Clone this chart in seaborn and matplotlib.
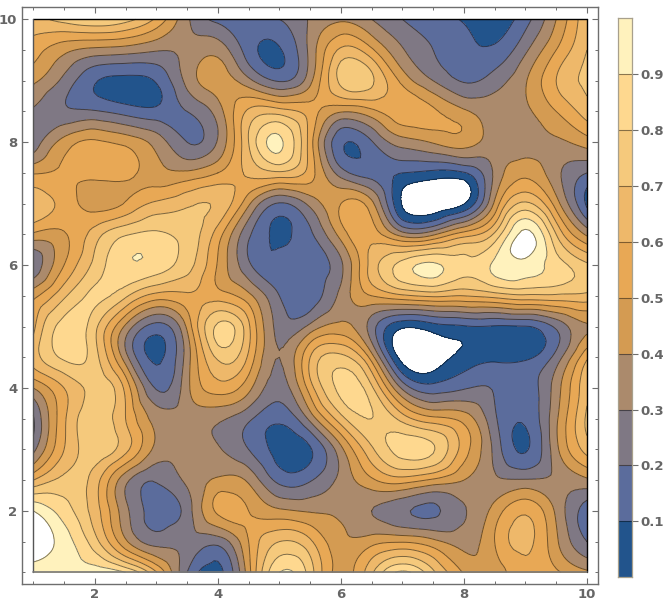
import numpy as np
import seaborn as sns
import matplotlib
matplotlib.use("Agg")
import matplotlib.pyplot as plt
import matplotlib.tri as mtri

# values, one list per row, x = 1, 1.5, ... 10
x_vals = [1, 1.5, 2, 2.5, 3, 3.5, 4, 4.5, 5, 5.5, 6, 6.5, 7, 7.5, 8, 8.5, 9, 9.5, 10]
y_vals = [10, 9.5, 9, 8.5, 8, 7.5, 7, 6.5, 6, 5.5, 5, 4.5, 4, 3.5, 3, 2.5, 2, 1.5, 1]

row_100 = [.66, .74, .80, .74, .58, .32, .17, .15, .20, .31, .38, .30, .20, .14, .09, .05, .16, .40, .68]
row_095 = [.55, .43, .37, .35, .31, .33, .36, .15, .09, .33, .62, .52, .31, .20, .13, .12, .28, .50, .70]
row_090 = [.42, .27, .11, .07, .11, .33, .45, .33, .19, .37, .73, .72, .47, .30, .19, .25, .39, .60, .72]
row_085 = [.28, .22, .21, .16, .13, .20, .35, .62, .65, .55, .41, .47, .57, .52, .42, .35, .38, .50, .65]
row_080 = [.23, .44, .52, .47, .36, .20, .31, .70, .92, .55, .12, .19, .35, .41, .45, .35, .36, .38, .45]
row_075 = [.49, .52, .54, .53, .44, .42, .50, .62, .68, .55, .25, .15, .10, .07, .09, .32, .47, .33, .20]
row_070 = [.66, .56, .46, .51, .62, .68, .68, .42, .19, .33, .50, .43, -.01, -.08, -.005, .42, .72, .45, .08]
row_065 = [.48, .49, .65, .79, .82, .76, .55, .22, .085, .18, .44, .56, .35, .38, .55, .72, 1.03, .70, .38]
row_060 = [.22, .50, .73, .885, .86, .74, .49, .22, .12, .15, .28, .64, .84, .92, .83, .92, .97, .85, .72]
row_055 = [.47, .68, .82, .72, .56, .58, .55, .43, .20, .14, .33, .50, .58, .62, .60, .64, .68, .68, .67]
row_050 = [.57, .84, .73, .38, .16, .42, .82, .62, .26, .33, .43, .25, .02, .06, .09, .09, .095, .22, .39]
row_045 = [.65, .82, .74, .34, .08, .35, .72, .58, .30, .60, .73, .45, -.05, -.07, .035, .07, .08, .24, .58]
row_040 = [.40, .60, .74, .57, .19, .37, .55, .43, .25, .55, .83, .72, .28, .14, .19, .19, .15, .35, .68]
row_035 = [.19, .58, .76, .60, .36, .33, .32, .22, .12, .33, .66, .80, .66, .53, .46, .22, .115, .38, .72]
row_030 = [.27, .60, .76, .63, .37, .33, .31, .20, .06, .09, .37, .68, .84, .81, .55, .27, .09, .37, .64]
row_025 = [.60, .73, .65, .33, .21, .32, .42, .38, .17, .19, .33, .48, .55, .48, .40, .32, .31, .32, .38]
row_020 = [1.0, .85, .65, .33, .15, .25, .52, .50, .42, .39, .38, .30, .22, .18, .29, .44, .58, .38, .14]
row_015 = [1.1, .95, .74, .42, .26, .27, .24, .50, .70, .62, .43, .46, .49, .43, .36, .50, .63, .42, .20]
row_010 = [.93, .93, .96, .90, .61, .20, .07, .46, .90, .75, .46, .68, .92, .72, .49, .44, .58, .52, .42]

z_rows = [row_100, row_095, row_090, row_085, row_080, row_075, row_070, row_065, row_060, row_055,
          row_050, row_045, row_040, row_035, row_030, row_025, row_020, row_015, row_010]

levels = [0, .1, .2, .3, .4, .5, .6, .7, .8, .9, 1]
tick_vals = [.1, .2, .3, .4, .5, .6, .7, .8, .9]
band_colors = ["#22548c", "#5b6c9c", "#7f7884", "#ab8a6c", "#d49b52",
               "#e8a855", "#eeb86a", "#f5c97c", "#fed88f", "#fff2bd"]

sns.set_style("ticks")
plt.rcParams["font.family"] = "DejaVu Sans"
grey = "#666666"
frame_grey = "#6e6e6e"

fig = plt.figure(figsize=(6.71, 6.12), dpi=100)
ax = fig.add_axes([21.5 / 671, 1 - 584 / 612, 576.5 / 671, 577 / 612])
cax = fig.add_axes([618.3 / 671, 1 - 577.3 / 612, 14 / 671, 559 / 612])

X, Y = np.meshgrid(x_vals, y_vals)
Z = np.array(z_rows)
tri = mtri.Triangulation(X.ravel(), Y.ravel())
refiner = mtri.UniformTriRefiner(tri)
tri_fine, z_fine = refiner.refine_field(Z.ravel(), subdiv=3)

pal = sns.color_palette(band_colors)
cf = ax.tricontourf(tri_fine, z_fine, levels=levels, colors=pal)
ax.tricontour(tri_fine, z_fine, levels=levels, colors="#000000", linewidths=0.7, alpha=0.5)

# data edge lines, dark top and right like the reference
ax.plot([min(x_vals), max(x_vals)], [max(y_vals), max(y_vals)], color="black", lw=1)
ax.plot([max(x_vals), max(x_vals)], [min(y_vals), max(y_vals)], color="black", lw=1)
ax.plot([min(x_vals), min(x_vals)], [min(y_vals), max(y_vals)], color="#555555", lw=1)
ax.plot([min(x_vals), max(x_vals)], [min(y_vals), min(y_vals)], color="#777777", lw=1.2)

ax.set_xlim(0.808, 10.18)
ax.set_ylim(0.81, 10.2)
ax.set_xticks([2, 4, 6, 8, 10])
ax.set_yticks([2, 4, 6, 8, 10])
ax.set_xticks(np.arange(1, 10.5, 0.5), minor=True)
ax.set_yticks(np.arange(1, 10.5, 0.5), minor=True)
ax.tick_params(which="major", direction="in", length=4, width=0.8, color=frame_grey,
               top=True, right=True, labelcolor=grey, labelsize=9.5, pad=3)
ax.tick_params(which="minor", direction="in", length=2.2, width=0.7, color=frame_grey,
               top=True, right=True)
for lab in ax.get_xticklabels() + ax.get_yticklabels():
    lab.set_fontweight("bold")
for side in ax.spines.values():
    side.set_color(frame_grey)
    side.set_linewidth(1.0)

# colour bar
for i, c in enumerate(pal):
    cax.axhspan(levels[i], levels[i + 1], color=c, lw=0)
for v in tick_vals:
    cax.axhline(v, color="#000000", alpha=0.45, lw=0.8)
cax.set_xlim(0, 1)
cax.set_ylim(0, 1)
cax.set_xticks([])
cax.yaxis.tick_right()
cax.set_yticks(tick_vals)
cax.set_yticklabels([str(v) for v in tick_vals], fontweight="bold", color=grey, fontsize=9.5)
cax.tick_params(axis="y", length=4, width=0.8, color=frame_grey, pad=2)
for side in cax.spines.values():
    side.set_color("#a8a08c")
    side.set_linewidth(0.9)

fig.savefig("out.png", dpi=100)
